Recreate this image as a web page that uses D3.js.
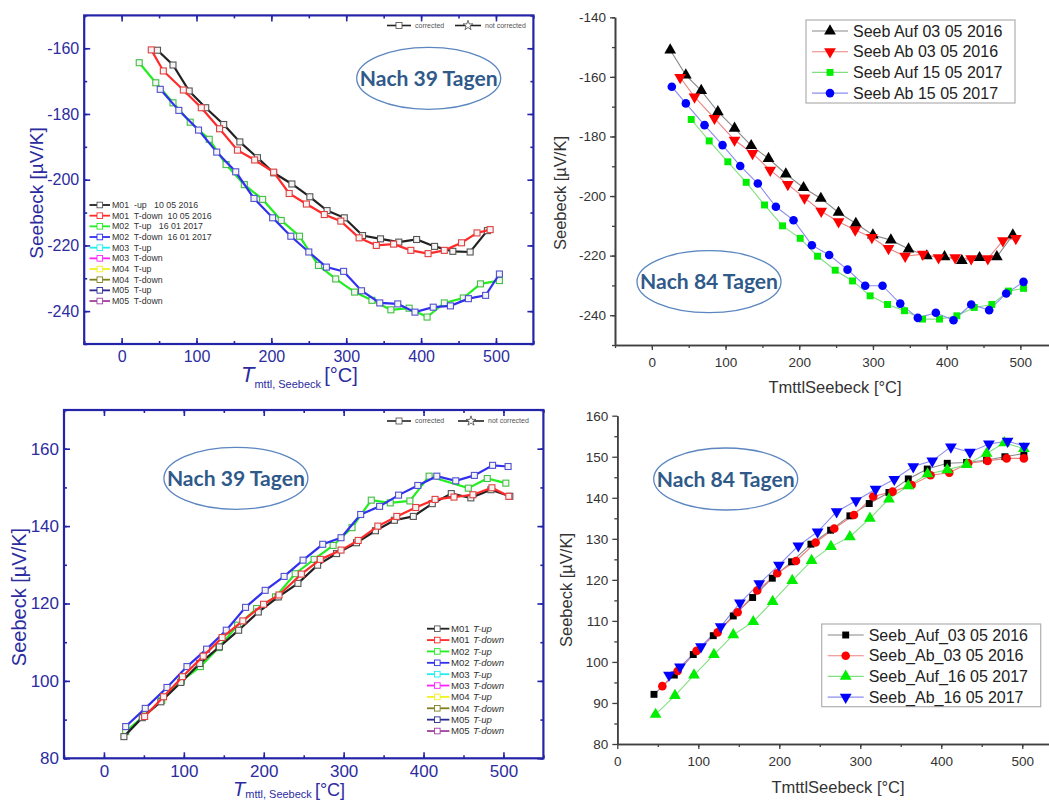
<!DOCTYPE html>
<html>
<head>
<meta charset="utf-8">
<script src="https://cdn.jsdelivr.net/npm/d3@7"></script>
<style>
  body { margin: 0; background: #fff; }
  svg { display: block; }
</style>
</head>
<body>
<div id="chart"></div>
<script>
// ---- data: top left (Nach 39 Tagen, negative Seebeck) ----
var p1M01Up = [[47.9,-160.6],[68.6,-165.1],[90.2,-173.0],[112.3,-178.1],[136.3,-183.2],[157.9,-188.5],[181.4,-193.3],[203,-197.9],[227.4,-201.3],[251.4,-205.2],[274.4,-209.4],[297.4,-211.6],[321.8,-217],[345.8,-218],[370.2,-219],[394,-218.2],[418,-220.3],[442.4,-221.8],[465.5,-222],[488.5,-215.5]];
var p1M01Down = [[39.6,-160.5],[55.7,-166.9],[82.4,-172.7],[106.4,-178.1],[130.8,-184.5],[154.7,-191],[177.7,-194],[203,-197.7],[223.8,-204.2],[246.8,-207.4],[270.7,-210.6],[292.8,-212.6],[317.2,-217.7],[340.2,-220],[363.3,-219.6],[386.3,-221.5],[409.3,-222.5],[431,-221.5],[454,-219.2],[474.7,-216.2],[492.2,-215.2]];
var p1M02Up = [[23.5,-164.4],[45.6,-170.5],[68.6,-176.6],[91.6,-182.5],[117,-187.7],[139.5,-195.4],[163.9,-201.5],[188.3,-206],[213.2,-212.4],[237.6,-217.2],[262.9,-226.1],[285.9,-230.2],[311.2,-234.2],[334.3,-236.7],[359.6,-239.6],[384,-239.1],[408,-241.8],[431,-237.5],[456.3,-236],[479.3,-231.7],[504.6,-230.7]];
var p1M02Down = [[51.6,-172.5],[76.4,-178.9],[102.7,-184.9],[127,-191.6],[152.4,-197.6],[176.8,-205.7],[201.7,-211.6],[226,-217.2],[250,-222],[273.5,-226.6],[296.5,-227.9],[320.4,-233.8],[344.8,-237.5],[368.8,-237.8],[391.8,-240.3],[416.2,-238.8],[439.2,-238.4],[463.2,-236.2],[486.2,-235.2],[504.6,-228.7]];

// ---- data: top right (Nach 84 Tagen, negative Seebeck) ----
var p2AufA = [[24.9,-151],[46.1,-159.4],[67,-164.6],[89.6,-171.7],[112.2,-177.3],[134.8,-183.1],[158.3,-187.4],[181.8,-192.6],[205.8,-197.2],[229.3,-200.8],[253.3,-205.5],[276.8,-209.2],[299.9,-213.1],[324.3,-214.8],[348.3,-217.8],[373.1,-220.1],[397.1,-220.4],[420.6,-221.7],[444.6,-220.7],[468.1,-220.4],[489.8,-213.1]];
var p2AbA = [[38.4,-160.2],[57.9,-166.7],[85,-173.9],[112.2,-181.2],[136.6,-185.7],[160.6,-191.3],[184.5,-196.1],[207.1,-200.6],[229.8,-205.1],[253.3,-208.6],[275.9,-211.4],[298.5,-213.9],[321.1,-217.6],[343.7,-220.2],[367.7,-219.5],[389,-220.7],[411.6,-220.7],[433.3,-221],[455.9,-221],[476.3,-215],[493.9,-214.2]];
var p2AufB = [[53.4,-174.3],[77.8,-181.5],[103.1,-188.5],[128,-195.4],[152.9,-203],[177.3,-210],[201.3,-214.2],[224.8,-220.2],[248.8,-224.9],[272.3,-228.5],[296.2,-233.5],[319.8,-236.4],[342.8,-238.5],[367.3,-241.3],[390.3,-241.3],[413.8,-240.2],[437.4,-237.4],[461.3,-236.4],[483.9,-231.9],[504.3,-231]];
var p2AbB = [[27.1,-163.3],[46.1,-168.9],[71.5,-176.2],[95.9,-182.9],[119.9,-189.9],[143.8,-195.8],[168.3,-203.6],[192.2,-208.1],[217.1,-216.5],[240.6,-219.8],[265.5,-224.7],[289.5,-230.1],[313,-230.1],[337,-236.1],[360.9,-240.9],[385.3,-239.2],[409.3,-241.7],[433.3,-236.4],[457.7,-238.3],[480.8,-232.7],[504.3,-228.8]];

// ---- data: bottom left (Nach 39 Tagen, positive Seebeck) ----
var p3M01Up = [[25,85.6],[47.9,90.5],[71.2,94.6],[96.2,99.6],[119.9,104.5],[144.5,108.8],[168.6,113.1],[193.2,117.8],[218.2,121.7],[242.8,125.2],[267.4,129.9],[291.1,132.9],[316.1,135.7],[339.8,138.8],[363.5,141.5],[387.2,142.5],[410.9,145.8],[434.7,148.4],[459.2,147.3],[484.3,149.4],[508,147.7]];
var p3M01Down = [[50.9,90.8],[74.6,95.9],[98.3,101.1],[124.2,106.4],[147.9,111.2],[173.8,115.5],[199.7,119.8],[219.1,122.2],[247.1,127.6],[270.8,131.4],[296.7,133.8],[318.2,136.3],[342.8,140],[366.5,142.5],[390.2,144.8],[414.4,146.9],[438.1,147.5],[461.8,148.1],[485.6,149.9],[506.7,147.7]];
var p3M02Up = [[27.2,86.9],[50,90.9],[72.4,95],[97,100],[120.7,103.7],[143.6,108.6],[167.3,114.4],[191,118.7],[214.7,121.7],[239.3,127.7],[263,131.4],[286.8,135],[310.5,139.6],[334.6,146.7],[358.3,146],[382.9,146.5],[407,152.9],[456,149.8],[479.7,152.3],[503,151.1]];
var p3M02Down = [[27.2,88.2],[51.7,92.9],[78.9,98.3],[103.9,103.7],[128.5,108.2],[153.1,113.1],[177.2,119],[201.8,123.4],[225.5,127],[249.2,131.2],[273.8,135.3],[296.7,137],[321.3,143],[345,145.1],[368.7,148],[392.8,150.5],[416.6,152.9],[440.3,151.7],[463.6,153.1],[486.4,155.7],[505.8,155.4]];

// ---- data: bottom right (Nach 84 Tagen, positive Seebeck) ----
var p4AufA = [[45.3,92.1],[70.4,96.8],[93.8,101.8],[118.5,106.4],[143.2,111.2],[167.1,115.7],[191.4,120.4],[215.2,124.4],[239.1,128.7],[263.4,132.1],[287.2,135.6],[311.1,138.6],[335.4,141.3],[359.3,144.6],[382.7,147],[407.4,148.4],[431.3,148.6],[456,149.2],[478.6,150],[502,150.8]];
var p4AbA = [[55.6,94.1],[74.5,97.8],[97.9,102.7],[123.9,107.2],[148.6,112.1],[172.8,117.4],[197.5,121.6],[220.6,124.6],[244.9,129.1],[267.9,132.5],[292.2,135.8],[316,140.3],[339.9,141.5],[363.4,143.1],[386.8,145.5],[409.9,146.1],[433.3,148.4],[457.2,149],[480.7,149.6],[502,149.6]];
var p4AufB = [[47.3,87.2],[71.2,91.8],[94.7,96.8],[119.3,101.8],[143.2,106.6],[167.9,109.8],[191.8,114.7],[216,119.8],[239.9,124.7],[263.8,128.1],[287.2,130.5],[311.9,135],[335.4,139.7],[359.3,142.9],[383.1,145.8],[407.4,146.8],[431.3,148.1],[456,150.8],[477.8,153.4],[502,152]];
var p4AbB = [[63.8,96.8],[77.4,98.8],[103.3,103.7],[127.6,108.6],[151.4,114.4],[175.3,119.1],[199.6,123.6],[223.5,128.3],[247.3,131.7],[270.8,136.6],[294.7,139.3],[318.9,142.1],[342,144.5],[365.4,147.6],[388.9,149],[411.9,152.4],[435.4,151.1],[458.8,153.1],[481.9,153.8],[502.5,152.6]];

// ---- labels ----
var p1Legend = ["M01  -up   10 05 2016", "M01  T-down  10 05 2016", "M02  T-up   16 01 2017", "M02  T-down  16 01 2017", "M03  T-up", "M03  T-down", "M04  T-up", "M04  T-down", "M05  T-up", "M05  T-down"];
var p3LegendIds = ["M01", "M01", "M02", "M02", "M03", "M03", "M04", "M04", "M05", "M05"];
var p3LegendDir = ["T-up", "T-down", "T-up", "T-down", "T-up", "T-down", "T-up", "T-down", "T-up", "T-down"];
var mColors = ["#222222", "#ff2a2a", "#22ee22", "#3030ee", "#22eeee", "#ff22ff", "#f2f222", "#808020", "#2a2a90", "#a040a0"];
var p2Legend = ["Seeb Auf 03 05 2016", "Seeb Ab 03 05 2016", "Seeb Auf 15 05 2017", "Seeb Ab 15 05 2017"];
var p4Legend = ["Seeb_Auf_03 05 2016", "Seeb_Ab_03 05 2016", "Seeb_Auf_16 05 2017", "Seeb_Ab_16 05 2017"];

var blue = "#2424a8";
var blueText = "#2c2ca0";
var grey = "#404040";
var fontA = "'Liberation Sans', Arial, sans-serif";
var plainNum = d => String(d);   // keep hyphen minus like the original

var svg = d3.select("#chart").append("svg")
  .attr("width", 1049)
  .attr("height", 800);

function range(a, b, s) { return d3.range(a, b + s / 2, s); }

// Origin-like boxed panel with inward ticks on all four sides
function boxedPanel(cfg) {
  var g = svg.append("g");
  var x = d3.scaleLinear().domain(cfg.xDomain).range(cfg.xRange);
  var y = d3.scaleLinear().domain(cfg.yDomain).range(cfg.yRange);
  var x0 = cfg.xRange[0], x1 = cfg.xRange[1], y0 = cfg.yRange[0], y1 = cfg.yRange[1];

  function style(sel) {
    sel.select(".domain").remove();
    sel.selectAll("line").attr("stroke", blue).attr("stroke-width", 1.6);
    sel.selectAll("text").attr("fill", blueText);
    sel.attr("font-size", cfg.tickFont).attr("font-family", fontA);
  }
  var xMaj = cfg.xMajor, xMin = cfg.xMinor, yMaj = cfg.yMajor, yMin = cfg.yMinor;
  g.append("g").attr("transform", `translate(0,${y0})`)
    .call(d3.axisBottom(x).tickValues(xMaj).tickFormat(plainNum).tickSize(-6).tickPadding(7)).call(style);
  g.append("g").attr("transform", `translate(0,${y0})`)
    .call(d3.axisBottom(x).tickValues(xMin).tickSize(-3).tickFormat("")).call(style);
  g.append("g").attr("transform", `translate(0,${y1})`)
    .call(d3.axisTop(x).tickValues(xMaj).tickSize(-6).tickFormat("")).call(style);
  g.append("g").attr("transform", `translate(0,${y1})`)
    .call(d3.axisTop(x).tickValues(xMin).tickSize(-3).tickFormat("")).call(style);
  g.append("g").attr("transform", `translate(${x0},0)`)
    .call(d3.axisLeft(y).tickValues(yMaj).tickFormat(plainNum).tickSize(-6).tickPadding(5)).call(style);
  g.append("g").attr("transform", `translate(${x0},0)`)
    .call(d3.axisLeft(y).tickValues(yMin).tickSize(-3).tickFormat("")).call(style);
  g.append("g").attr("transform", `translate(${x1},0)`)
    .call(d3.axisRight(y).tickValues(yMaj).tickSize(-6).tickFormat("")).call(style);
  g.append("g").attr("transform", `translate(${x1},0)`)
    .call(d3.axisRight(y).tickValues(yMin).tickSize(-3).tickFormat("")).call(style);

  g.append("rect")
    .attr("x", x0).attr("y", y1)
    .attr("width", x1 - x0).attr("height", y0 - y1)
    .attr("fill", "none").attr("stroke", blue).attr("stroke-width", 2.2);

  var line = d3.line().x(d => x(d[0])).y(d => y(d[1]));
  cfg.series.forEach(function(s) {
    g.append("path").datum(s.data)
      .attr("d", line).attr("fill", "none")
      .attr("stroke", s.color).attr("stroke-width", 2.2);
    g.selectAll(null).data(s.data).enter().append("rect")
      .attr("x", d => x(d[0]) - 3).attr("y", d => y(d[1]) - 3)
      .attr("width", 6).attr("height", 6)
      .attr("fill", "#f4f4f4").attr("stroke", s.mark).attr("stroke-width", 1.1);
  });

  // y label
  g.append("text")
    .attr("transform", `translate(${cfg.yLabel[0]},${cfg.yLabel[1]}) rotate(-90)`)
    .attr("text-anchor", "middle").attr("dy", "0.35em")
    .attr("font-family", fontA).attr("font-size", cfg.yLabelFont)
    .attr("fill", blueText)
    .text("Seebeck [µV/K]");

  // x label with subscript
  var xl = g.append("text")
    .attr("x", cfg.xLabel[0]).attr("y", cfg.xLabel[1])
    .attr("font-family", fontA).attr("fill", blueText);
  xl.append("tspan").attr("font-size", cfg.labFont + 2).attr("font-style", "italic").text("T");
  xl.append("tspan").attr("font-size", 11).attr("dy", cfg.subDy).text("mttl, Seebeck ");
  xl.append("tspan").attr("font-size", cfg.labFont).attr("dy", -cfg.subDy).text("[°C]");

  // "corrected / not corrected" key
  var k = g.append("g").attr("font-family", fontA).attr("font-size", 7).attr("fill", "#555");
  var ky = cfg.keyY;
  k.append("line").attr("x1", cfg.keyX[0]).attr("x2", cfg.keyX[0] + 24).attr("y1", ky).attr("y2", ky)
    .attr("stroke", "#222").attr("stroke-width", 1.6);
  k.append("rect").attr("x", cfg.keyX[0] + 9).attr("y", ky - 3).attr("width", 6).attr("height", 6)
    .attr("fill", "#fff").attr("stroke", "#444").attr("stroke-width", 0.8);
  k.append("text").attr("x", cfg.keyX[0] + 28).attr("y", ky).attr("dy", "0.35em").text("corrected");
  k.append("line").attr("x1", cfg.keyX[1]).attr("x2", cfg.keyX[1] + 26).attr("y1", ky).attr("y2", ky)
    .attr("stroke", "#222").attr("stroke-width", 1.6);
  k.append("path").attr("d", d3.symbol().type(d3.symbolStar).size(30)())
    .attr("transform", `translate(${cfg.keyX[1] + 13},${ky})`)
    .attr("fill", "#fff").attr("stroke", "#444").attr("stroke-width", 0.8);
  k.append("text").attr("x", cfg.keyX[1] + 30).attr("y", ky).attr("dy", "0.35em").text("not corrected");

  return g;
}

// plain panel with left and bottom axis, outward ticks
function plainPanel(cfg) {
  var g = svg.append("g");
  var x = d3.scaleLinear().domain(cfg.xDomain).range(cfg.xRange);
  var y = d3.scaleLinear().domain(cfg.yDomain).range(cfg.yRange);

  function style(sel) {
    sel.select(".domain").attr("stroke", grey).attr("stroke-width", 1.6);
    sel.selectAll("line").attr("stroke", grey).attr("stroke-width", 1.3);
    sel.selectAll("text").attr("fill", "#333");
    sel.attr("font-size", 13.5).attr("font-family", fontA);
  }
  g.append("g").attr("transform", `translate(0,${cfg.yRange[0]})`)
    .call(d3.axisBottom(x).tickValues(cfg.xMinor).tickSize(3).tickSizeOuter(0).tickFormat("")).call(style);
  g.append("g").attr("transform", `translate(0,${cfg.yRange[0]})`)
    .call(d3.axisBottom(x).tickValues(cfg.xMajor).tickFormat(plainNum).tickSize(5).tickSizeOuter(0).tickPadding(7)).call(style);
  g.append("g").attr("transform", `translate(${cfg.xRange[0]},0)`)
    .call(d3.axisLeft(y).tickValues(cfg.yMinor).tickSize(3).tickSizeOuter(0).tickFormat("")).call(style);
  g.append("g").attr("transform", `translate(${cfg.xRange[0]},0)`)
    .call(d3.axisLeft(y).tickValues(cfg.yMajor).tickFormat(plainNum).tickSize(5).tickSizeOuter(0).tickPadding(4)).call(style);

  var line = d3.line().x(d => x(d[0])).y(d => y(d[1]));
  cfg.series.forEach(function(s) {
    g.append("path").datum(s.data)
      .attr("d", line).attr("fill", "none")
      .attr("stroke", s.line).attr("stroke-width", 1.1);
  });
  cfg.series.forEach(function(s) {
    g.selectAll(null).data(s.data).enter().append("path")
      .attr("d", d3.symbol().type(s.symbol).size(s.size)())
      .attr("transform", d => `translate(${x(d[0])},${y(d[1])})` + (s.flip ? " rotate(180)" : ""))
      .attr("fill", s.color);
  });

  g.append("text")
    .attr("transform", `translate(${cfg.yLabel[0]},${cfg.yLabel[1]}) rotate(-90)`)
    .attr("text-anchor", "middle").attr("dy", "0.35em")
    .attr("font-family", fontA).attr("font-size", 16.5).attr("fill", "#333")
    .text("Seebeck [µV/K]");
  g.append("text")
    .attr("x", cfg.xLabel[0]).attr("y", cfg.xLabel[1])
    .attr("text-anchor", "middle")
    .attr("font-family", fontA).attr("font-size", 16.5).attr("fill", "#333")
    .text("TmttlSeebeck [°C]");

  // legend box
  var lb = cfg.legendBox;
  var lg = g.append("g");
  lg.append("rect").attr("x", lb[0]).attr("y", lb[1]).attr("width", lb[2]).attr("height", lb[3])
    .attr("fill", "#fff").attr("stroke", "#b0b0b0").attr("stroke-width", 1.2);
  cfg.series.forEach(function(s, i) {
    var ly = lb[1] + 11 + i * 20.7;
    lg.append("line").attr("x1", lb[0] + 6).attr("x2", lb[0] + 42).attr("y1", ly).attr("y2", ly)
      .attr("stroke", s.line).attr("stroke-width", 1.1);
    lg.append("path").attr("d", d3.symbol().type(s.symbol).size(s.size)())
      .attr("transform", `translate(${lb[0] + 24},${ly})` + (s.flip ? " rotate(180)" : ""))
      .attr("fill", s.color);
    lg.append("text").attr("x", lb[0] + 47).attr("y", ly).attr("dy", "0.36em")
      .attr("font-family", fontA).attr("font-size", 16).attr("fill", "#222")
      .text(cfg.legend[i]);
  });
  return g;
}

function tagEllipse(cx, cy, label) {
  svg.append("ellipse").attr("cx", cx).attr("cy", cy).attr("rx", 72).attr("ry", 31)
    .attr("fill", "none").attr("stroke", "#5b86bf").attr("stroke-width", 1.3);
  svg.append("text").attr("x", cx).attr("y", cy).attr("dy", "0.36em")
    .attr("text-anchor", "middle")
    .attr("font-family", "Lato, 'Open Sans', sans-serif").attr("font-weight", 700)
    .attr("font-size", 21).attr("fill", "#2f5a8a")
    .attr("textLength", 138).attr("lengthAdjust", "spacingAndGlyphs")
    .text(label);
}

// ---- top left ----
var p1 = boxedPanel({
  xDomain: [-50, 550], xRange: [84.2, 533.4],
  yDomain: [-250, -150], yRange: [344, 15.4],
  xMajor: range(0, 500, 100), xMinor: range(-50, 550, 50),
  yMajor: range(-240, -160, 20), yMinor: range(-250, -150, 10),
  tickFont: 16, yLabel: [36, 193], yLabelFont: 19, xLabel: [241, 382], subDy: 6, labFont: 20,
  keyX: [387, 455], keyY: 25.5,
  series: [
    { data: p1M01Up, color: mColors[0], mark: "#555" },
    { data: p1M01Down, color: mColors[1], mark: "#e04040" },
    { data: p1M02Up, color: mColors[2], mark: "#40c040" },
    { data: p1M02Down, color: mColors[3], mark: "#5050d0" }
  ]
});
var lg1 = p1.append("g").attr("font-family", fontA).attr("font-size", 8.8).attr("fill", "#333");
p1Legend.forEach(function(t, i) {
  var ly = 205 + i * 10.67;
  lg1.append("line").attr("x1", 89.5).attr("x2", 110).attr("y1", ly).attr("y2", ly)
    .attr("stroke", mColors[i]).attr("stroke-width", 1.8);
  lg1.append("rect").attr("x", 97).attr("y", ly - 2.8).attr("width", 5.6).attr("height", 5.6)
    .attr("fill", "#fff").attr("stroke", i === 0 ? "#555" : mColors[i]).attr("stroke-width", 0.9);
  lg1.append("text").attr("x", 112).attr("y", ly).attr("dy", "0.35em")
    .style("white-space", "pre").text(t);
});
tagEllipse(428.7, 78.3, "Nach 39 Tagen");

// ---- top right ----
plainPanel({
  xDomain: [-50, 550], xRange: [615, 1057.2],
  yDomain: [-250, -140], yRange: [345, 17.3],
  xMajor: range(0, 500, 100), xMinor: range(-50, 550, 50),
  yMajor: range(-240, -140, 20), yMinor: range(-250, -140, 10),
  yLabel: [560, 193], xLabel: [835, 393],
  legendBox: [806, 20, 209, 83], legend: p2Legend,
  series: [
    { data: p2AufA, color: "#000", line: "#888", symbol: d3.symbolTriangle, size: 60 },
    { data: p2AbA, color: "#ff0000", line: "#ee8080", symbol: d3.symbolTriangle, size: 60, flip: true },
    { data: p2AufB, color: "#00ee00", line: "#80e080", symbol: d3.symbolSquare, size: 48 },
    { data: p2AbB, color: "#0000ff", line: "#8c8cf0", symbol: d3.symbolCircle, size: 58 }
  ]
});
tagEllipse(709, 281.7, "Nach 84 Tagen");

// ---- bottom left ----
var p3 = boxedPanel({
  xDomain: [-50, 550], xRange: [64, 543.4],
  yDomain: [80, 170], yRange: [758.3, 410],
  xMajor: range(0, 500, 100), xMinor: range(-50, 550, 50),
  yMajor: range(80, 160, 20), yMinor: range(80, 170, 10),
  tickFont: 17, yLabel: [19, 597], yLabelFont: 20, xLabel: [233, 795.5], subDy: 2, labFont: 18,
  keyX: [387, 458], keyY: 421,
  series: [
    { data: p3M02Up, color: mColors[2], mark: "#40c040" },
    { data: p3M02Down, color: mColors[3], mark: "#5050d0" },
    { data: p3M01Up, color: mColors[0], mark: "#555" },
    { data: p3M01Down, color: mColors[1], mark: "#e04040" }
  ]
});
var lg3 = p3.append("g").attr("font-family", fontA).attr("font-size", 9.6).attr("fill", "#333");
p3LegendIds.forEach(function(t, i) {
  var ly = 628.7 + i * 11.37;
  lg3.append("line").attr("x1", 427).attr("x2", 449.4).attr("y1", ly).attr("y2", ly)
    .attr("stroke", mColors[i]).attr("stroke-width", 1.8);
  lg3.append("rect").attr("x", 434.5).attr("y", ly - 2.8).attr("width", 5.6).attr("height", 5.6)
    .attr("fill", "#fff").attr("stroke", i === 0 ? "#555" : mColors[i]).attr("stroke-width", 0.9);
  var tx = lg3.append("text").attr("x", 451).attr("y", ly).attr("dy", "0.35em");
  tx.append("tspan").text(t);
  tx.append("tspan").attr("x", 473).attr("font-style", "italic").text(p3LegendDir[i]);
});
tagEllipse(235.9, 478.3, "Nach 39 Tagen");

// ---- bottom right ----
plainPanel({
  xDomain: [0, 535], xRange: [617.3, 1050.6],
  yDomain: [80, 160], yRange: [744, 415.7],
  xMajor: range(0, 500, 100), xMinor: range(50, 500, 50),
  yMajor: range(80, 160, 10), yMinor: range(85, 155, 10),
  yLabel: [566.7, 590], xLabel: [838, 792.7],
  legendBox: [821.7, 624, 219, 82.7], legend: p4Legend,
  series: [
    { data: p4AufA, color: "#000", line: "#888", symbol: d3.symbolSquare, size: 48 },
    { data: p4AbA, color: "#ff0000", line: "#ee8080", symbol: d3.symbolCircle, size: 58 },
    { data: p4AufB, color: "#00ee00", line: "#80e080", symbol: d3.symbolTriangle, size: 60 },
    { data: p4AbB, color: "#0000ff", line: "#8c8cf0", symbol: d3.symbolTriangle, size: 60, flip: true }
  ]
});
tagEllipse(725.7, 479, "Nach 84 Tagen");
</script>
</body>
</html>
